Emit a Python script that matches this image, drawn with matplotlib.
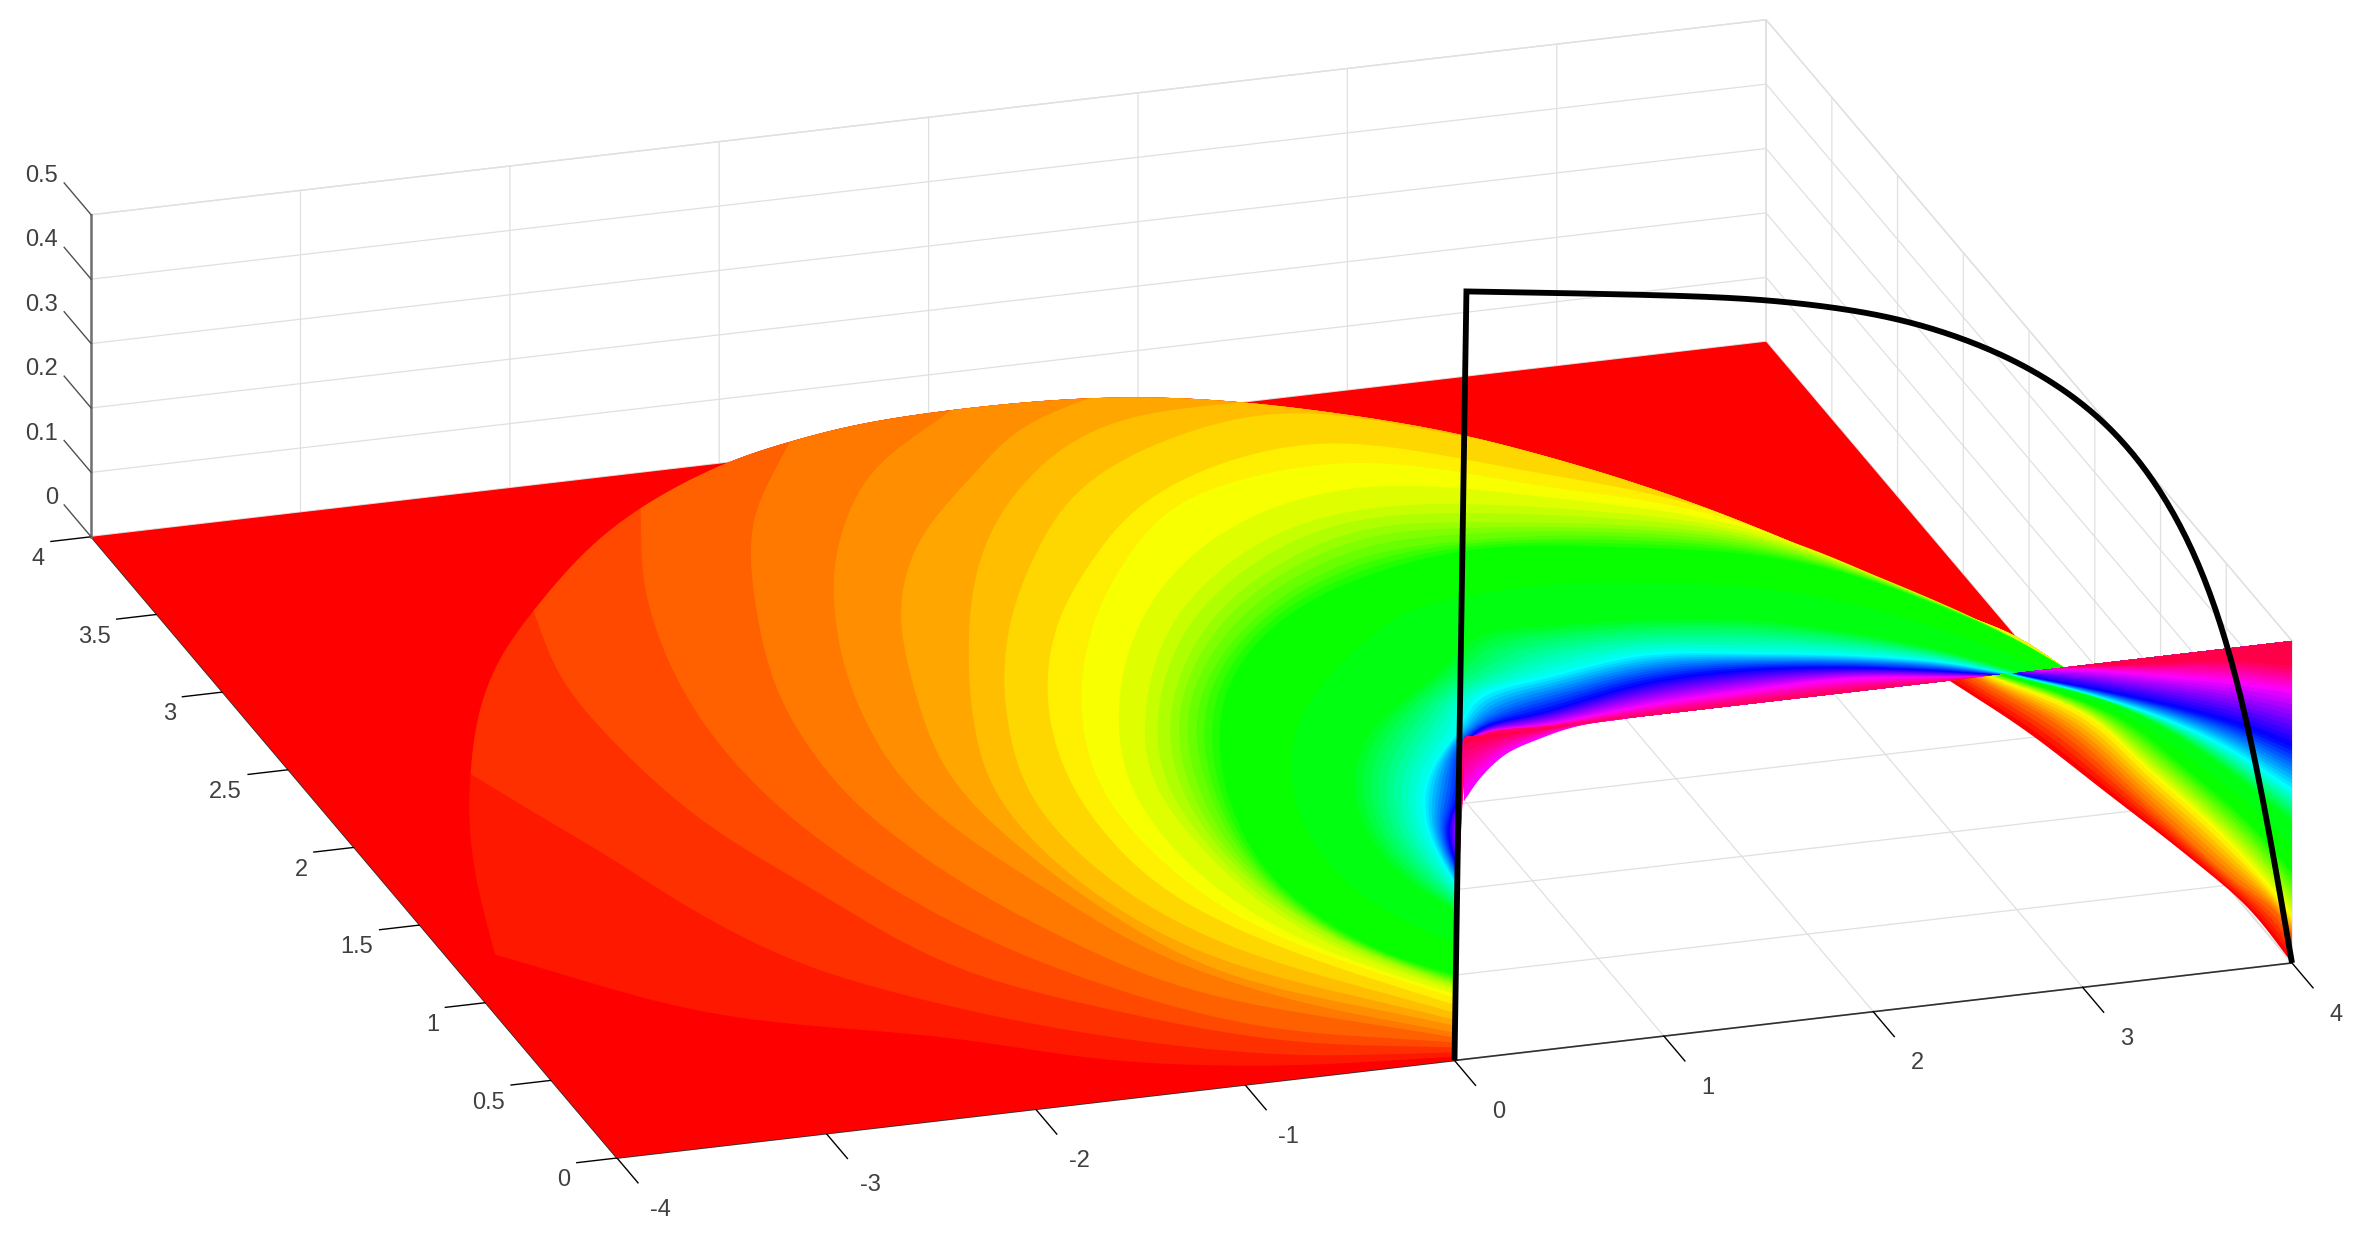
import colorsys
import numpy as np
import matplotlib
matplotlib.use("Agg")
import matplotlib.pyplot as plt
from mpl_toolkits.mplot3d import proj3d
from mpl_toolkits.mplot3d.art3d import Poly3DCollection

# ---------- axis content ----------
X_TICKS = [-4, -3, -2, -1, 0, 1, 2, 3, 4]
Y_TICKS = [0, 0.5, 1, 1.5, 2, 2.5, 3, 3.5, 4]
Z_TICKS = [0, 0.1, 0.2, 0.3, 0.4, 0.5]
X_LABELS = ["-4", "-3", "-2", "-1", "0", "1", "2", "3", "4"]
Y_LABELS = ["0", "0.5", "1", "1.5", "2", "2.5", "3", "3.5", "4"]
Z_LABELS = ["0", "0.1", "0.2", "0.3", "0.4", "0.5"]

# ---------- outer edge of the coloured sheet on the floor ----------
ENV_X = [-3.781, -3.513, -3.205, -2.981, -2.660, -2.394, -1.893, -1.490, -1.170, -0.872, -0.637, -0.275,
         0.151, 0.867, 1.487, 2.121, 2.364, 2.750, 3.133, 3.474, 3.807, 3.916, 4.021, 4.094]
ENV_Y = [1.275, 1.919, 2.376, 2.693, 3.027, 3.229, 3.599, 3.804, 3.934, 4.028, 4.075, 4.140,
         4.157, 4.147, 4.025, 3.772, 3.651, 3.393, 3.077, 2.696, 2.306, 2.205, 2.092, 1.890]

# ---------- level curves of the sheet (level = index into a 64 step hue map) ----------
B1_X = [0.015, -0.766, -1.470, -2.111, -3.082]
B1_Y = [0.023, 0.088, 0.229, 0.477, 0.795]
B2_X = [0.029, -0.726, -1.385, -1.994, -2.488, -2.764, -2.908, -3.090]
B2_Y = [0.047, 0.152, 0.363, 0.663, 1.016, 1.411, 1.734, 2.083]
B3_X = [0.048, -0.674, -1.286, -1.843, -2.186, -2.387, -2.481, -2.482]
B3_Y = [0.076, 0.234, 0.520, 0.902, 1.494, 1.909, 2.410, 2.840]
B4_X = [0.066, -0.759, -1.312, -1.681, -1.954, -2.036, -1.984, -1.790]
B4_Y = [0.105, 0.349, 0.737, 1.159, 1.732, 2.238, 2.742, 3.307]
B5_X = [0.085, -0.914, -1.282, -1.511, -1.663, -1.613, -1.416, -1.078]
B5_Y = [0.134, 0.610, 1.033, 1.427, 1.944, 2.530, 3.038, 3.626]
B6_X = [0.103, -0.516, -0.921, -1.135, -1.327, -1.372, -1.258, -1.030, -0.842, -0.385]
B6_Y = [0.163, 0.484, 0.848, 1.266, 1.718, 2.026, 2.584, 3.080, 3.370, 3.837]
B7_X = [0.129, -0.704, -0.944, -1.110, -1.154, -0.984, -0.743, -0.415, 0.055, 0.456]
B7_Y = [0.204, 0.686, 1.062, 1.556, 1.992, 2.541, 3.035, 3.413, 3.755, 4.013]
B8_X = [0.151, -0.641, -0.868, -1.014, -1.015, -0.859, -0.639, -0.307, 0.057, 0.566, 0.972]
B8_Y = [0.239, 0.741, 1.032, 1.458, 1.887, 2.285, 2.679, 3.159, 3.531, 3.868, 3.997]
B9_X = [0.177, -0.549, -0.763, -0.871, -0.880, -0.729, -0.549, -0.343, 0.004, 0.456, 1.010, 1.686]
B9_Y = [0.280, 0.809, 1.099, 1.436, 1.822, 2.227, 2.557, 2.845, 3.220, 3.597, 3.830, 3.917]
B10_X = [0.206, -0.232, -0.475, -0.644, -0.690, -0.667, -0.546, -0.362, -0.089, 0.265, 0.623, 1.135, 1.749, 2.285, 2.546, 2.928]
B10_Y = [0.326, 0.677, 0.926, 1.189, 1.516, 1.832, 2.198, 2.527, 2.869, 3.179, 3.443, 3.651, 3.715, 3.504, 3.373, 3.205]
B11_X = [0.232, -0.152, -0.391, -0.520, -0.562, -0.550, -0.422, -0.210, 0.068, 0.408, 0.815, 1.272, 1.807, 2.237, 2.498, 2.898, 3.254]
B11_Y = [0.367, 0.683, 0.931, 1.234, 1.515, 1.814, 2.153, 2.504, 2.845, 3.156, 3.445, 3.565, 3.579, 3.428, 3.297, 3.158, 2.949]
B12_X = [0.247, -0.184, -0.409, -0.449, -0.419, -0.270, -0.036, 0.237, 0.669, 1.188, 1.715, 2.182, 2.461, 2.865, 3.243, 3.546]
B12_Y = [0.390, 0.752, 1.153, 1.497, 1.794, 2.129, 2.476, 2.780, 3.116, 3.354, 3.433, 3.341, 3.239, 3.106, 2.931, 2.641]
B13_X = [0.261, -0.115, -0.296, -0.320, -0.319, -0.146, 0.045, 0.352, 0.780, 1.262, 1.728, 2.126, 2.425, 2.839, 3.228, 3.542, 3.828, 4.014, 4.094]
B13_Y = [0.414, 0.741, 1.135, 1.497, 1.778, 2.136, 2.400, 2.737, 3.035, 3.247, 3.302, 3.253, 3.181, 3.065, 2.908, 2.635, 2.315, 2.081, 1.890]
B15_X = [0.280, -0.041, -0.203, -0.251, -0.202, -0.038, 0.212, 0.632, 1.104, 1.610, 2.056, 2.369, 2.799, 3.206, 3.535, 3.824, 4.014, 4.094]
B15_Y = [0.443, 0.729, 1.056, 1.403, 1.760, 2.119, 2.438, 2.802, 3.048, 3.193, 3.142, 3.093, 3.001, 2.873, 2.623, 2.309, 2.081, 1.890]
B18_X = [0.298, 0.022, -0.135, -0.175, -0.085, 0.076, 0.303, 0.683, 1.093, 1.562, 1.990, 2.322, 2.758, 3.173, 3.524, 3.820, 4.012, 4.094]
B18_Y = [0.472, 0.701, 0.981, 1.327, 1.741, 2.101, 2.385, 2.685, 2.902, 3.040, 3.038, 3.018, 2.937, 2.820, 2.606, 2.304, 2.078, 1.890]
B21_X = [0.317, 0.129, -0.041, -0.133, -0.024, 0.180, 0.407, 0.800, 1.280, 1.961, 2.285, 2.718, 3.143, 3.513, 3.817, 4.010, 4.094]
B21_Y = [0.501, 0.620, 0.858, 1.212, 1.688, 2.085, 2.369, 2.667, 2.873, 2.991, 2.959, 2.873, 2.774, 2.588, 2.298, 2.075, 1.890]
B23_X = [0.561, 0.472, 0.434, 0.481, 0.623, 0.880, 1.208, 1.511, 1.640, 1.983, 2.453, 2.897, 3.292, 3.662, 3.880]
B23_Y = [0.873, 1.034, 1.232, 1.481, 1.759, 2.014, 2.199, 2.376, 2.484, 2.482, 2.453, 2.383, 2.239, 2.053, 1.891]
B32_X = [0.646, 0.710, 0.816, 0.981, 1.259, 1.412, 1.799, 2.331, 2.775, 3.211, 3.625, 3.831]
B32_Y = [1.007, 1.336, 1.557, 1.742, 1.955, 2.123, 2.190, 2.261, 2.191, 2.110, 1.995, 1.888]
B43_X = [0.723, 0.765, 0.859, 0.990, 1.280, 1.666, 2.221, 2.713, 3.163, 3.592, 3.783]
B43_Y = [1.123, 1.264, 1.421, 1.530, 1.913, 1.980, 2.086, 2.092, 2.035, 1.942, 1.889]
B53_X = [0.764, 1.031, 1.269, 1.619, 2.140, 2.639, 3.126, 3.572, 3.726]
B53_Y = [1.180, 1.587, 1.895, 1.905, 1.958, 1.975, 1.976, 1.910, 1.889]
B60_X = [0.780, 1.050, 1.280, 1.620, 2.140, 2.640, 3.130, 3.570, 3.700]
B60_Y = [1.200, 1.600, 1.890, 1.892, 1.900, 1.905, 1.905, 1.893, 1.889]
# left end of the straight upper edge of the ribbon, seen on the floor
RIBBON_FLOOR = (1.227, 1.889)

# ---------- lower ribbon, in the plane y = 0 ----------
HOLE_X = [0.045, 0.124, 0.239, 0.416, 0.592, 0.846]
HOLE_Z = [0.401, 0.434, 0.465, 0.485, 0.497, 0.500]

# ---------- wedge at the right end, in the plane y = 0 ----------
W0_X = [2.365, 2.731, 3.120, 3.512, 3.803, 4.0]
W0_Z = [0.500, 0.408, 0.296, 0.182, 0.089, 0.0]
W5_X = [2.484, 2.924, 3.316, 3.706, 3.942, 4.0]
W5_Z = [0.500, 0.401, 0.272, 0.144, 0.077, 0.044]
W11_X = [2.556, 3.043, 3.316, 3.607, 3.899, 4.0]
W11_Z = [0.500, 0.415, 0.323, 0.229, 0.118, 0.070]
W21_X = [2.604, 2.891, 3.218, 3.512, 3.803, 4.0]
W21_Z = [0.500, 0.461, 0.402, 0.315, 0.222, 0.140]
W23_X = [2.628, 3.120, 3.411, 3.706, 4.0]
W23_Z = [0.500, 0.439, 0.383, 0.308, 0.221]
W32_X = [2.652, 3.024, 3.411, 3.703, 4.0]
W32_Z = [0.500, 0.455, 0.398, 0.341, 0.266]
W43_X = [2.676, 2.728, 3.120, 3.512, 3.746, 4.0]
W43_Z = [0.500, 0.494, 0.454, 0.410, 0.379, 0.336]
W53_X = [2.747, 2.924, 3.316, 3.703, 4.0]
W53_Z = [0.500, 0.496, 0.471, 0.444, 0.418]
W61_X = [2.938, 3.321, 3.703, 4.0]
W61_Z = [0.500, 0.490, 0.480, 0.461]

# ---------- black curve, in the plane y = 0 ----------
BLACK_X = [0.0, 0.057, 0.607, 1.171, 1.481, 1.796, 2.107, 2.418, 2.731, 3.043, 3.239, 3.411, 3.569, 3.706, 3.803, 3.899, 3.960, 4.0]
BLACK_Z = [0.0, 1.192, 1.168, 1.142, 1.125, 1.102, 1.073, 1.031, 0.975, 0.896, 0.826, 0.740, 0.636, 0.499, 0.362, 0.195, 0.080, 0.0]


def catmull(a, b, per_seg=16):
    """Centripetal Catmull-Rom through the read points."""
    p = np.column_stack([a, b]).astype(float)
    if len(p) < 3:
        return p
    p = np.vstack([2 * p[0] - p[1], p, 2 * p[-1] - p[-2]])
    out = []
    for i in range(1, len(p) - 2):
        p0, p1, p2, p3 = p[i - 1], p[i], p[i + 1], p[i + 2]
        t0 = 0.0
        t1 = t0 + max(np.linalg.norm(p1 - p0), 1e-6) ** 0.5
        t2 = t1 + max(np.linalg.norm(p2 - p1), 1e-6) ** 0.5
        t3 = t2 + max(np.linalg.norm(p3 - p2), 1e-6) ** 0.5
        t = np.linspace(t1, t2, per_seg, endpoint=False)[:, None]
        a1 = (t1 - t) / (t1 - t0) * p0 + (t - t0) / (t1 - t0) * p1
        a2 = (t2 - t) / (t2 - t1) * p1 + (t - t1) / (t2 - t1) * p2
        a3 = (t3 - t) / (t3 - t2) * p2 + (t - t2) / (t3 - t2) * p3
        b1 = (t2 - t) / (t2 - t0) * a1 + (t - t0) / (t2 - t0) * a2
        b2 = (t3 - t) / (t3 - t1) * a2 + (t - t1) / (t3 - t1) * a3
        out.append((t2 - t) / (t2 - t1) * b1 + (t - t1) / (t2 - t1) * b2)
    out.append(p[-2][None, :])
    return np.vstack(out)


def resample(c, n=300):
    s = np.r_[0, np.cumsum(np.hypot(*np.diff(c, axis=0).T))]
    u = np.linspace(0, s[-1], n)
    return np.column_stack([np.interp(u, s, c[:, 0]), np.interp(u, s, c[:, 1])])


def average(c, width, passes):
    """Moving average along a curve; its two ends stay where they are."""
    h = width // 2
    kernel = np.ones(width) / width
    for _ in range(passes):
        pad_a = 2 * c[0] - c[h:0:-1]
        pad_b = 2 * c[-1] - c[-2:-h - 2:-1]
        full = np.vstack([pad_a, c, pad_b])
        c = np.column_stack([np.convolve(full[:, k], kernel, mode="valid") for k in (0, 1)])
    return c


def smooth(a, b, width=15, passes=2):
    return average(resample(catmull(a, b), 240), width, passes)


ENV_DENSE = average(catmull(ENV_X, ENV_Y), 17, 3)


def sheet_curve(ax_, ay_, env_from=None):
    if env_from is None:
        return smooth(ax_, ay_)
    join = ENV_DENSE[env_from * 16]
    first = smooth(list(ax_) + [join[0]], list(ay_) + [join[1]])
    return np.vstack([first, ENV_DENSE[env_from * 16 + 1:]])


def level_colour(n):
    return colorsys.hsv_to_rgb(n / 64.0, 1.0, 1.0)


SHEET_KEYS = [(1, sheet_curve(B1_X, B1_Y, 0)), (2, sheet_curve(B2_X, B2_Y, 2)), (3, sheet_curve(B3_X, B3_Y, 5)),
              (4, sheet_curve(B4_X, B4_Y, 7)), (5, sheet_curve(B5_X, B5_Y, 10)), (6, sheet_curve(B6_X, B6_Y, 12)),
              (7, sheet_curve(B7_X, B7_Y, 13)), (8, sheet_curve(B8_X, B8_Y, 14)), (9, sheet_curve(B9_X, B9_Y, 16)),
              (10, sheet_curve(B10_X, B10_Y, 18)), (11, sheet_curve(B11_X, B11_Y, 19)),
              (12, sheet_curve(B12_X, B12_Y, 20)), (13, sheet_curve(B13_X, B13_Y)), (15, sheet_curve(B15_X, B15_Y)),
              (18, sheet_curve(B18_X, B18_Y)), (21, sheet_curve(B21_X, B21_Y)), (23, sheet_curve(B23_X, B23_Y)),
              (32, sheet_curve(B32_X, B32_Y)), (43, sheet_curve(B43_X, B43_Y)), (53, sheet_curve(B53_X, B53_Y)),
              (60, sheet_curve(B60_X, B60_Y))]
WEDGE_KEYS = [(0, smooth(W0_X, W0_Z)), (5, smooth(W5_X, W5_Z)), (11, smooth(W11_X, W11_Z)), (21, smooth(W21_X, W21_Z)),
              (23, smooth(W23_X, W23_Z)), (32, smooth(W32_X, W32_Z)), (43, smooth(W43_X, W43_Z)),
              (53, smooth(W53_X, W53_Z)), (61, smooth(W61_X, W61_Z))]


def levels_between(keys):
    """Every integer level from the curves that were read."""
    for (l0, c0), (l1, c1) in zip(keys[:-1], keys[1:]):
        if l1 - l0 == 1:
            yield l0, c0
            continue
        r0, r1 = resample(c0), resample(c1)
        for lev in range(l0, l1):
            t = (lev - l0) / (l1 - l0)
            yield lev, (1 - t) * r0 + t * r1
    yield keys[-1][0], keys[-1][1]


W_PX, H_PX = 2353, 1236
fig = plt.figure(figsize=(W_PX / 100, H_PX / 100), dpi=100, facecolor="white")
plt.rcParams["font.family"] = ["Liberation Sans", "DejaVu Sans"]
ax = fig.add_axes([0, 0, 1, 1], projection="3d", facecolor="white")
ax.computed_zorder = False
ax.set_proj_type("ortho")
ax.view_init(elev=21.77, azim=-107.43)
ax.set_xlim(-4, 4, view_margin=0)
ax.set_ylim(0, 4, view_margin=0)
ax.set_zlim(0, 0.5, view_margin=0)

ax.set_xticks(X_TICKS)
ax.set_yticks(Y_TICKS)
ax.set_zticks(Z_TICKS)
GRID_COL = "#e0e0e0"
for axis, col, factor in ((ax.xaxis, "#303030", 0.5), (ax.yaxis, "#303030", 0.3), (ax.zaxis, (1, 1, 1, 0), 0.0)):
    axis.set_pane_color((1, 1, 1, 1))
    axis.pane.set_edgecolor(GRID_COL)
    axis.line.set_color(col)
    axis.line.set_linewidth(1.2)
    axis._axinfo["tick"]["outward_factor"] = 0.0
    axis._axinfo["tick"]["inward_factor"] = factor
    axis._axinfo["tick"]["color"] = col
    axis._axinfo["tick"]["linewidth"] = {True: 1.0, False: 1.0}
    axis._axinfo["grid"]["color"] = GRID_COL
    axis._axinfo["grid"]["linewidth"] = 0.9
    axis.set_ticklabels([])


def add_poly(xs, ys, zs, lev, order):
    coll = Poly3DCollection([list(zip(xs, ys, zs))], facecolors=[level_colour(lev)], edgecolors="none", zorder=order)
    coll.set_clip_on(False)
    ax.add_collection3d(coll)


# red floor under the coloured sheet
FLOOR_X = [-4, 0, 1.734, 4, 4, -4]
FLOOR_Y = [0, 0, 2.693, 2.10, 4, 4]
order = 1
add_poly(FLOOR_X, FLOOR_Y, [0] * 6, 0, order)

# upper sheet
for lev, c in levels_between(SHEET_KEYS):
    order += 1
    xs = np.r_[c[:, 0], RIBBON_FLOOR[0]]
    ys = np.r_[c[:, 1], RIBBON_FLOOR[1]]
    add_poly(xs, ys, np.zeros_like(xs), lev, order)

# lower ribbon: magenta at the hole, crimson at the straight edge
hole = resample(catmull(HOLE_X, HOLE_Z))
edge = np.column_stack([hole[:, 0], np.full(len(hole), 0.5)])
for lev in range(53, 62):
    order += 1
    t = (lev - 53) / 9
    c = (1 - t) * hole + t * edge
    xs = np.r_[c[:, 0], edge[::-1, 0]]
    zs = np.r_[c[:, 1], edge[::-1, 1]]
    add_poly(xs, np.zeros_like(xs), zs, lev, order)

# wedge
for lev, c in levels_between(WEDGE_KEYS):
    order += 1
    xs = np.r_[c[:, 0], 4.0]
    zs = np.r_[c[:, 1], 0.5]
    add_poly(xs, np.zeros_like(xs), zs, lev, order)

# z axis on the back left edge, with its ticks along +y
ax.plot([-4, -4], [4, 4], [Z_TICKS[0], Z_TICKS[-1]], color="#707070", lw=1.8, zorder=order + 1, clip_on=False)
for v in Z_TICKS:
    ax.plot([-4, -4], [4, 4.205], [v, v], color="#505050", lw=1.0, zorder=order + 1, clip_on=False)

# black curve
arc = smooth(BLACK_X[1:], BLACK_Z[1:], width=19, passes=2)
bc = np.vstack([[BLACK_X[0], BLACK_Z[0]], arc])
ax.plot(bc[:, 0], np.zeros(len(bc)), bc[:, 1], color="black", lw=4.2, zorder=order + 2, solid_joinstyle="miter",
        solid_capstyle="butt", clip_on=False)


# fit the box onto the figure
def to_px(x, y, z):
    a, b, _ = proj3d.proj_transform(x, y, z, ax.get_proj())
    return ax.transData.transform((a, b))


ANCHOR_A, ANCHOR_B = (617.0, H_PX - 1158.0), (2292.0, H_PX - 963.0)
ax.set_box_aspect((1, 1, 0.1975), zoom=1.0)
fig.canvas.draw()
p0, p1 = to_px(-4, 0, 0), to_px(4, 0, 0)
zoom = np.hypot(*(np.array(ANCHOR_B) - ANCHOR_A)) / np.hypot(*(p1 - p0))
ax.set_box_aspect((1, 1, 0.1975), zoom=zoom)
fig.canvas.draw()
p0 = to_px(-4, 0, 0)
pos = ax.get_position(original=True)
ax.set_position([pos.x0 + (ANCHOR_A[0] - p0[0]) / W_PX, pos.y0 + (ANCHOR_A[1] - p0[1]) / H_PX, pos.width, pos.height])
fig.canvas.draw()

# tick labels, placed through the axes' own projection
tick_font = dict(fontsize=17, color="#404040", family=["Liberation Sans", "DejaVu Sans"], va="center")


def label_at(x, y, z, s, ha):
    px = to_px(x, y, z)
    fig.text(px[0] / W_PX, px[1] / H_PX, s, ha=ha, **tick_font)


for v, s in zip(X_TICKS, X_LABELS):
    label_at(v, -0.333, 0, s, "center")
for v, s in zip(Y_TICKS, Y_LABELS):
    label_at(-4.284, v - 0.099, 0, s, "right")
for v, s in zip(Z_TICKS, Z_LABELS):
    label_at(-4, 4.25, v, s, "right")

fig.savefig("out.png", dpi=100, facecolor="white")
